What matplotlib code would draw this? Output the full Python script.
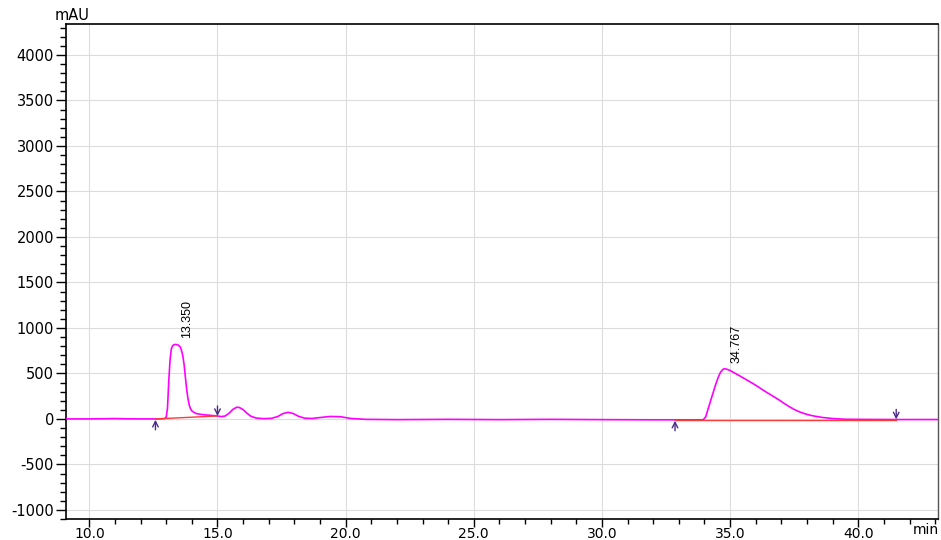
import matplotlib
matplotlib.use("Agg")
import matplotlib.pyplot as plt
from matplotlib.ticker import MultipleLocator, FixedLocator

# ---- data ----
time_min = [9.1, 10.0, 10.6, 11.0, 11.4, 12.0, 12.6, 12.9, 12.95, 13.0, 13.05, 13.1, 13.15,
            13.2, 13.25, 13.3, 13.35, 13.45, 13.55, 13.6, 13.65, 13.7, 13.75, 13.8,
            13.85, 13.9, 13.95, 14.0, 14.1, 14.2, 14.4, 14.6, 14.8, 15.0, 15.15, 15.3,
            15.45, 15.6, 15.75, 15.85, 16.0, 16.15, 16.3, 16.5, 16.8, 17.1, 17.35,
            17.55, 17.75, 17.95, 18.15, 18.4, 18.7, 19.0, 19.4, 19.8, 20.2, 20.8,
            22.0, 24.0, 26.0, 28.0, 30.0, 32.0, 33.5, 33.9, 33.96, 34.05, 34.15, 34.25,
            34.35, 34.45, 34.54, 34.62, 34.7, 34.77, 34.85, 35.0, 35.2, 35.4, 35.7,
            36.0, 36.35, 36.7, 36.9, 37.1, 37.3, 37.5, 37.7, 37.9, 38.1, 38.3, 38.6,
            39.0, 39.5, 40.5, 41.5, 43.2]
signal_mau = [0, 0, 2, 4, 1, 0, 0, 2, 5, 20, 120, 420, 650,
              770, 805, 815, 818, 815, 790, 750, 690, 590, 450, 320,
              220, 150, 110, 88, 68, 57, 48, 42, 37, 33, 25, 32,
              62, 105, 128, 126, 102, 62, 30, 10, 3, 6, 26,
              58, 72, 60, 30, 8, 5, 15, 27, 24, 5, -5,
              -8, -5, -8, -5, -8, -10, -10, -10, -8, 25, 118, 210,
              300, 390, 460, 510, 540, 552, 548, 532, 500, 469, 420,
              370, 305, 245, 210, 172, 136, 104, 78, 58, 42, 30, 16,
              4, -4, -6, -7, -7]

peak_times = [13.350, 34.767]
peak_heights = [818, 552]
peak_labels = ["13.350", "34.767"]

baseline_t = [[12.58, 15.0], [32.85, 41.48]]
baseline_y = [[0, 32], [-10, -10]]

event_start_t = [12.58, 32.85]
event_start_y = [-10, -20]
event_end_t = [15.0, 41.48]
event_end_y = [32, -5]

x_major = [10.0, 15.0, 20.0, 25.0, 30.0, 35.0, 40.0]
y_major = [-1000, -500, 0, 500, 1000, 1500, 2000, 2500, 3000, 3500, 4000]

# ---- figure ----
W, H = 941, 540
PX = 72 / 100  # points per pixel at 100 dpi
fig = plt.figure(figsize=(W / 100, H / 100), dpi=100)
ax = fig.add_axes([66 / W, 1 - 519 / H, (938 - 66) / W, (519 - 24) / H])

ax.set_xlim(9.09, 43.11)
ax.set_ylim(-1100, 4340)

ax.grid(True, which="major", color="#dcdcdc", lw=0.8, ls="-")
ax.set_axisbelow(True)

ax.plot(time_min, signal_mau, color="#ff00ff", lw=1.2, zorder=3)
for bt, by in zip(baseline_t, baseline_y):
    ax.plot(bt, by, color="#ff3a3a", lw=1.0, zorder=4)

arrow_col = "#4a2a8a"
aprops = dict(arrowstyle="->", color=arrow_col, lw=1.0, mutation_scale=10,
              shrinkA=0, shrinkB=0)
for t, y in zip(event_start_t, event_start_y):
    ax.annotate("", xy=(t, y), xytext=(0, -10 * PX), textcoords="offset points",
                arrowprops=aprops, zorder=5)
for t, y in zip(event_end_t, event_end_y):
    ax.annotate("", xy=(t, y), xytext=(0, 10 * PX), textcoords="offset points",
                arrowprops=aprops, zorder=5)

for t, h, lab in zip(peak_times, peak_heights, peak_labels):
    ax.annotate(lab, xy=(t, h), xytext=(12 * PX, 6 * PX), textcoords="offset points",
                rotation=90, ha="center", va="bottom", fontsize=9,
                family=["Liberation Sans Narrow", "Liberation Sans"], color="black")

ax.xaxis.set_major_locator(FixedLocator(x_major))
ax.xaxis.set_minor_locator(MultipleLocator(1.0))
ax.yaxis.set_major_locator(FixedLocator(y_major))
ax.yaxis.set_minor_locator(MultipleLocator(100))
ax.set_xticklabels([f"{v:.1f}" for v in x_major])
ax.set_yticklabels([str(v) for v in y_major])

ax.tick_params(axis="y", which="major", length=10 * PX, width=1, direction="out",
               pad=2 * PX, labelsize=10.5)
ax.tick_params(axis="y", which="minor", length=6 * PX, width=1, direction="out")
ax.tick_params(axis="x", which="major", length=8 * PX, width=1, direction="out",
               pad=0, labelsize=10)
ax.tick_params(axis="x", which="minor", length=5 * PX, width=1, direction="out")

for s in ["left", "bottom", "top"]:
    ax.spines[s].set_color("black")
    ax.spines[s].set_linewidth(1.2)
ax.spines["right"].set_color("#555555")
ax.spines["right"].set_linewidth(1.0)

fig.text(55 / W, 1 - 23 / H, "mAU", ha="left", va="bottom", fontsize=10.5)
fig.text(939 / W, 1 - 537 / H, "min", ha="right", va="bottom", fontsize=10)

fig.savefig("out.png", dpi=100)
